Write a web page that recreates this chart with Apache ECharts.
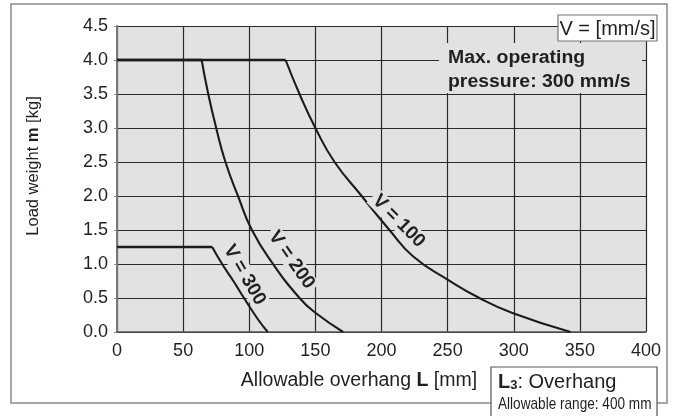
<!DOCTYPE html>
<html><head><meta charset="utf-8">
<script src="https://cdn.jsdelivr.net/npm/echarts@6/dist/echarts.min.js"></script>
<style>html,body{margin:0;padding:0;background:#fff}#c{width:676px;height:416px}</style>
</head><body><div id="c"></div>
<script>
// ---- data ----
const xTicks = [0, 50, 100, 150, 200, 250, 300, 350, 400];
const yTicks = [0, 0.5, 1.0, 1.5, 2.0, 2.5, 3.0, 3.5, 4.0, 4.5];

const v100X = [0, 127.5, 138, 150, 164.5, 185, 206, 224, 250, 274, 299, 343];
const v100Y = [4.0, 4.0, 3.5, 3.0, 2.5, 2.0, 1.5, 1.11, 0.77, 0.5, 0.28, 0];

const v200X = [0, 64, 69, 75, 82, 91.5, 102, 118, 138, 149.5, 171];
const v200Y = [4.0, 4.0, 3.5, 3.0, 2.5, 2.0, 1.5, 1.0, 0.5, 0.29, 0];

const v300X = [0, 72, 79.5, 88, 96, 106.8, 114];
const v300Y = [1.25, 1.25, 1.0, 0.75, 0.5, 0.18, 0];

const curveLabels = [
  { text: 'V = 100', x: 213, y: 1.63, angle: 45 },
  { text: 'V = 200', x: 132, y: 1.06, angle: 55 },
  { text: 'V = 300', x: 96.5, y: 0.84, angle: 60 }
];

const FONT = '"Liberation Sans", Arial, sans-serif';
const PLOT_BG = '#e1e2e4';
const LINE = '#1c1c1c';
const TXT = '#231f20';

function pairs(xs, ys, from, to) {
  const out = [];
  for (let i = from; i < to; i++) out.push([xs[i], ys[i]]);
  return out;
}
function curveSeries(xs, ys) {
  // flat (max load) segment, then the smooth falling curve from the kink
  return [
    { type: 'line', data: pairs(xs, ys, 0, 2), symbol: 'none', silent: true,
      lineStyle: { color: LINE, width: 2.6 } },
    { type: 'line', data: pairs(xs, ys, 1, xs.length), symbol: 'none', silent: true,
      smooth: 0.5, lineStyle: { color: LINE, width: 2.1 } }
  ];
}

const chart = echarts.init(document.getElementById('c'), null, { renderer: 'canvas' });
const option = {
  animation: false,
  backgroundColor: '#fff',
  textStyle: { fontFamily: FONT },
  grid: { left: 117, right: 30, top: 26, bottom: 84, show: true,
          backgroundColor: PLOT_BG, borderWidth: 0 },
  xAxis: {
    type: 'value', min: xTicks[0], max: xTicks[xTicks.length - 1], interval: xTicks[1] - xTicks[0],
    axisLine: { show: true, lineStyle: { color: '#555', width: 1.5 } },
    axisTick: { show: false },
    axisLabel: { color: TXT, fontSize: 18, fontFamily: FONT, margin: 10 },
    splitLine: { show: true, lineStyle: { color: '#2a2a2a', width: 1.2 } }
  },
  yAxis: {
    type: 'value', min: yTicks[0], max: yTicks[yTicks.length - 1], interval: yTicks[1] - yTicks[0],
    axisLine: { show: true, lineStyle: { color: '#777', width: 2 } },
    axisTick: { show: true, length: 3, lineStyle: { color: '#888' } },
    axisLabel: { color: TXT, fontSize: 18, fontFamily: FONT, margin: 9,
                 formatter: v => v.toFixed(1) },
    splitLine: { show: true, lineStyle: { color: '#2a2a2a', width: 1.2 } }
  },
  series: [].concat(curveSeries(v100X, v100Y), curveSeries(v200X, v200Y), curveSeries(v300X, v300Y))
};
chart.setOption(option);

const graphics = [
  // outer frame
  { type: 'rect', z: -10, silent: true, shape: { x: 11, y: 4, width: 656, height: 399 },
    style: { fill: null, stroke: '#8a8a8a', lineWidth: 1.5 } },
  // y axis title
  { type: 'text', silent: true, x: 33, y: 166, rotation: Math.PI / 2,
    style: { text: '{n|Load weight }{b|m}{n| [kg]}', align: 'center', verticalAlign: 'middle',
      rich: { n: { fontSize: 16.5, fontFamily: FONT, fill: TXT },
              b: { fontSize: 16.5, fontFamily: FONT, fill: TXT, fontWeight: 'bold' } } } },
  // x axis title
  { type: 'text', silent: true, x: 359, y: 381,
    style: { text: '{n|Allowable overhang }{b|L}{n| [mm]}', align: 'center', verticalAlign: 'middle',
      rich: { n: { fontSize: 19.5, fontFamily: FONT, fill: TXT },
              b: { fontSize: 19.5, fontFamily: FONT, fill: TXT, fontWeight: 'bold' } } } },
  // V = [mm/s] box
  { type: 'rect', z: 50, silent: true, shape: { x: 558, y: 15, width: 99, height: 26 },
    style: { fill: '#fff', stroke: '#777', lineWidth: 1.2 } },
  { type: 'text', z: 51, silent: true, x: 607.5, y: 29,
    style: { text: 'V = [mm/s]', fontSize: 20, fontFamily: FONT, fill: TXT,
             align: 'center', verticalAlign: 'middle' } },
  // Max operating pressure note
  { type: 'rect', z: 50, silent: true, shape: { x: 439, y: 43, width: 203, height: 50 },
    style: { fill: PLOT_BG } },
  { type: 'text', z: 51, silent: true, x: 448, y: 58, scaleX: 1.08,
    style: { text: 'Max. operating', fontSize: 18, fontWeight: 'bold', fontFamily: FONT,
             fill: TXT, align: 'left', verticalAlign: 'middle' } },
  { type: 'text', z: 51, silent: true, x: 448, y: 82, scaleX: 1.08,
    style: { text: 'pressure: 300 mm/s', fontSize: 18, fontWeight: 'bold', fontFamily: FONT,
             fill: TXT, align: 'left', verticalAlign: 'middle' } },
  // L3 overhang box
  { type: 'rect', z: 50, silent: true, shape: { x: 491, y: 367, width: 166, height: 60 },
    style: { fill: '#fff', stroke: '#555', lineWidth: 1.2 } },
  { type: 'text', z: 51, silent: true, x: 498, y: 382,
    style: { text: '{b|L}{s|3}{n|: Overhang}', align: 'left', verticalAlign: 'middle',
      rich: { b: { fontSize: 20, fontWeight: 'bold', fontFamily: FONT, fill: TXT },
              s: { fontSize: 13, fontWeight: 'bold', fontFamily: FONT, fill: TXT, padding: [7, 0, 0, 0] },
              n: { fontSize: 20, fontFamily: FONT, fill: TXT } } } },
  { type: 'text', z: 51, silent: true, x: 498, y: 404, scaleX: 0.8,
    style: { text: 'Allowable range: 400 mm', fontSize: 17, fontFamily: FONT,
             fill: TXT, align: 'left', verticalAlign: 'middle' } }
];

curveLabels.forEach(l => {
  const p = chart.convertToPixel({ gridIndex: 0 }, [l.x, l.y]);
  graphics.push({ type: 'text', z: 40, silent: true, x: p[0], y: p[1],
    rotation: -l.angle * Math.PI / 180,
    style: { text: l.text, fontSize: 19, fontWeight: 'bold', fontFamily: FONT, fill: TXT,
             align: 'center', verticalAlign: 'middle', backgroundColor: PLOT_BG, padding: [0, 3] } });
});

chart.setOption({ graphic: graphics });
</script>
</body></html>
